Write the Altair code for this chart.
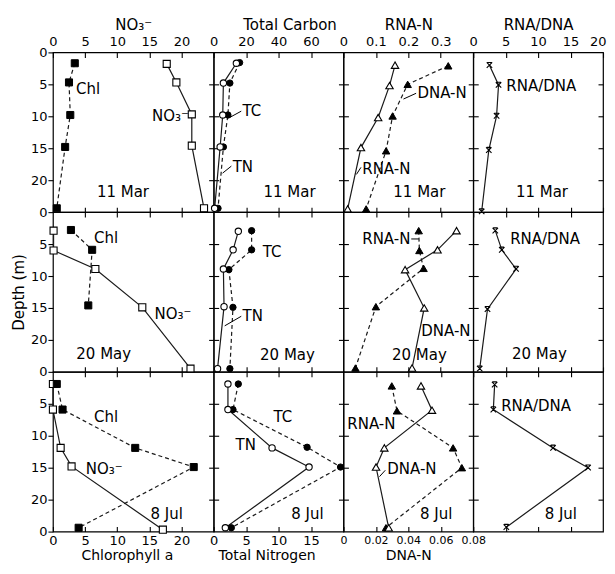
import altair as alt
import pandas as pd

FONT = "DejaVu Sans"
TICK = 5
ROW_H = 160
COL_W = [161, 130, 130, 130]

dates = ["11 Mar", "20 May", "8 Jul"]

# ---- Column 1: NO3- (top scale) and chlorophyll a (bottom scale)
no3_depth = [[1.8, 4.7, 9.7, 14.6, 24.4], [2.9, 6.0, 8.9, 14.9, 24.5], [1.9, 5.9, 11.9, 14.8, 24.7]]
no3_value = [[17.7, 19.2, 21.6, 21.6, 23.5], [0.1, 0.1, 6.6, 13.9, 21.4], [0.0, 0.0, 1.2, 2.9, 17.1]]
chl_depth = [[1.7, 4.7, 9.8, 14.8, 24.4], [2.8, 5.9, 14.6], [1.9, 5.9, 11.9, 14.9, 24.4]]
chl_value = [[3.4, 2.5, 2.7, 1.9, 0.6], [2.8, 6.1, 5.5], [0.6, 1.5, 12.8, 21.9, 4.0]]

# ---- Column 2: total carbon (top) and total nitrogen (bottom)
tc_depth = [[1.6, 4.8, 9.8, 14.8, 24.4], [2.9, 5.9, 9.0, 14.9, 24.5], [1.9, 5.9, 11.8, 14.9, 24.4]]
tc_value = [[16.0, 10.0, 8.8, 6.0, 2.7], [23.4, 23.4, 9.4, 11.9, 10.0], [15.2, 11.9, 57.6, 78.2, 10.9]]
tn_depth = [[1.7, 4.8, 9.8, 14.8, 24.4], [3.0, 5.9, 8.9, 14.8, 24.5], [1.9, 5.9, 11.9, 14.9, 24.4]]
tn_value = [[3.5, 1.5, 1.4, 1.0, 0.15], [3.8, 3.0, 1.5, 1.6, 0.6], [2.2, 2.2, 9.0, 14.7, 1.8]]

# ---- Column 3: RNA-N (top) and DNA-N (bottom)
rna_depth = [[2.0, 5.2, 10.2, 14.9, 24.5], [2.9, 6.0, 8.8, 14.8, 24.4], [2.2, 6.1, 11.9, 15.0, 24.4]]
rna_value = [[0.159, 0.142, 0.107, 0.054, 0.013], [0.232, 0.234, 0.247, 0.100, 0.037], [0.149, 0.165, 0.338, 0.365, 0.131]]
dna_depth = [[2.1, 5.0, 9.95, 15.4, 24.5], [2.9, 5.9, 9.0, 15.0, 24.4], [2.2, 6.0, 11.9, 14.9, 24.4]]
dna_value = [[0.0646, 0.0396, 0.0303, 0.0263, 0.0140], [0.0697, 0.058, 0.038, 0.0498, 0.0423], [0.0478, 0.0546, 0.0252, 0.0201, 0.0279]]

# ---- Column 4: RNA/DNA ratio
ratio_depth = [[2.0, 5.1, 9.95, 15.3, 24.9], [2.9, 5.9, 8.9, 15.2, 24.5], [2.0, 5.9, 11.9, 15.0, 24.3]]
ratio_value = [[2.5, 3.9, 3.6, 2.4, 1.3], [3.4, 4.4, 6.6, 2.2, 1.0], [3.3, 3.1, 12.3, 17.7, 5.1]]

# axes
top_titles = ["NO₃⁻", "Total Carbon", "RNA-N", "RNA/DNA"]
bottom_titles = ["Chlorophyll a", "Total Nitrogen", "DNA-N", ""]
top_domains = [[0, 25], [0, 80], [0, 0.4], [0, 20]]
bottom_domains = [[0, 25], [0, 20], [0, 0.08], [0, 20]]
top_ticks = [[0, 5, 10, 15, 20], [0, 20, 40, 60], [0, 0.1, 0.2, 0.3], [0, 5, 10, 15, 20]]
bottom_ticks = [[0, 5, 10, 15, 20], [0, 5, 10, 15], [0, 0.02, 0.04, 0.06, 0.08], [0, 5, 10, 15]]
depth_ticks = [0, 5, 10, 15, 20]

# in-panel labels (text, x in top-axis units, depth)
label_text = [
    [["Chl", "NO₃⁻"], ["TC", "TN"], ["DNA-N", "RNA-N"], ["RNA/DNA"]],
    [["Chl", "NO₃⁻"], ["TC", "TN"], ["RNA-N", "DNA-N"], ["RNA/DNA"]],
    [["Chl", "NO₃⁻"], ["TC", "TN"], ["RNA-N", "DNA-N"], ["RNA/DNA"]],
]
label_x = [
    [[3.6, 15.4], [17.8, 11.7], [0.228, 0.058], [5.1]],
    [[6.4, 15.8], [30.2, 17.8], [0.058, 0.24], [5.7]],
    [[6.4, 5.1], [36.9, 13.5], [0.012, 0.135], [4.3]],
]
label_d = [
    [[5.8, 10.0], [9.2, 18.0], [6.4, 18.3], [5.3]],
    [[4.1, 15.9], [6.25, 16.25], [4.2, 18.6], [4.2]],
    [[7.0, 15.2], [7.0, 11.4], [8.1, 15.2], [5.3]],
]
date_x = [[10.9, 46.8, 0.234, 10.6], [7.9, 45.5, 0.234, 10.2], [17.7, 57.8, 0.286, 13.5]]
date_d = [[21.9, 21.9, 21.9, 21.9], [22.2, 22.3, 22.3, 22.2], [22.3, 22.2, 22.2, 22.3]]

# short leader strokes from labels to curves (x1, d1, x2, d2 in top-axis units)
leaders = {
    (0, 1): [[17.0, 9.2, 9.8, 10.2], [10.9, 17.8, 5.5, 18.9]],
    (0, 2): [[0.224, 6.4, 0.185, 7.3], [0.054, 18.0, 0.040, 19.1]],
    (1, 1): [[17.0, 16.3, 6.8, 17.8]],
    (1, 2): [[0.209, 4.2, 0.232, 4.2]],
    (2, 2): [[0.129, 15.4, 0.111, 16.4]],
}


def yscale():
    return alt.Scale(domain=[0, 25], reverse=True, nice=False, zero=False)


def xscale(dom):
    return alt.Scale(domain=dom, nice=False, zero=False)


def top_axis(r, c):
    if r == 0:
        kw = dict(orient="top", values=top_ticks[c], format="~r", title=top_titles[c],
                  offset=-TICK, tickSize=TICK, labelPadding=4, titlePadding=3, labelFlush=False)
        if c == 1:
            kw["titleX"] = 76
        if c == 3:
            kw["labelAlign"] = {"condition": {"test": "datum.value == 20", "value": "right"},
                                "value": "center"}
            kw["labelOffset"] = {"condition": {"test": "datum.value == 20", "value": 3},
                                 "value": 0}
        return alt.Axis(**kw)
    return alt.Axis(orient="top", values=top_ticks[c][1:], labels=False, title=None, tickSize=TICK)


def bottom_axis(r, c):
    if r == 2:
        if c == 3:
            return alt.Axis(orient="bottom", values=bottom_ticks[c][1:], labels=False, title=None,
                            offset=-TICK, tickSize=TICK)
        kw = dict(orient="bottom", values=bottom_ticks[c], format="~r", title=bottom_titles[c],
                  offset=-TICK, tickSize=TICK, labelPadding=3, titlePadding=1, labelFlush=False,
                  titleFontSize=14)
        if c == 2:
            kw["labelFontSize"] = 11
            kw["titlePadding"] = 3
        if c == 0:
            kw["titleX"] = 74
        if c == 1:
            kw["titleX"] = 53
        return alt.Axis(**kw)
    return alt.Axis(orient="bottom", values=bottom_ticks[c][1:], labels=False, title=None, tickSize=TICK)


def left_axis(r, c):
    if c == 0:
        vals = depth_ticks + ([25] if r == 2 else [])
        kw = dict(orient="left", values=vals, labelExpr="datum.value == 25 ? '0' : datum.label",
                  tickSize=TICK, labelPadding=1, titlePadding=4)
        kw["title"] = "Depth (m)" if r == 1 else None
        return alt.Axis(**kw)
    return alt.Axis(orient="left", values=depth_ticks[1:], labels=False, title=None, tickSize=TICK)


def right_axis(r, c):
    if c == 3:
        return alt.Axis(orient="right", values=depth_ticks[1:], labels=False, title=None,
                        tickSize=TICK, offset=-TICK)
    return alt.Axis(orient="right", values=depth_ticks[1:], labels=False, title=None, tickSize=TICK)


def series(depths, values, dom, shape, style, dashed, xaxis, yaxis, size, visible=True):
    df = pd.DataFrame({"d": depths, "v": values})
    base = alt.Chart(df)
    lkw = dict(color="#1a1a1a", strokeWidth=1.2)
    if dashed:
        lkw["strokeDash"] = [4, 3]
    if not visible:
        lkw["opacity"] = 0
    line = base.mark_line(**lkw).encode(
        x=alt.X("v:Q", scale=xscale(dom), axis=xaxis),
        y=alt.Y("d:Q", scale=yscale(), axis=yaxis),
        order=alt.Order("d:Q"),
    )
    if not visible:
        return [line]
    if style == "cross":
        pkw = dict(shape="M-1,-1L1,1M-1,1L1,-1M-0.8,-1L0.8,-1", filled=False, stroke="black",
                   strokeWidth=1.1, opacity=1)
    elif style == "filled":
        pkw = dict(shape=shape, filled=True, fill="black", stroke="black", strokeWidth=1, opacity=1)
    else:
        pkw = dict(shape=shape, filled=True, fill="white", stroke="black", strokeWidth=1.1, opacity=1)
    point = base.mark_point(size=size, **pkw).encode(
        x=alt.X("v:Q", scale=xscale(dom), axis=None),
        y=alt.Y("d:Q", scale=yscale(), axis=None),
    )
    return [line, point]


def text_layer(texts, xs, ds, dom, align):
    df = pd.DataFrame({"t": texts, "v": xs, "d": ds})
    return alt.Chart(df).mark_text(align=align, baseline="middle", font=FONT, fontSize=15,
                                   color="black").encode(
        x=alt.X("v:Q", scale=xscale(dom), axis=None),
        y=alt.Y("d:Q", scale=yscale(), axis=None),
        text="t:N",
    )


def leader_layer(segs, dom):
    df = pd.DataFrame(segs, columns=["v", "d", "v2", "d2"])
    return alt.Chart(df).mark_rule(color="black", strokeWidth=1).encode(
        x=alt.X("v:Q", scale=xscale(dom), axis=None),
        x2="v2:Q",
        y=alt.Y("d:Q", scale=yscale(), axis=None),
        y2="d2:Q",
    )


panels = []
for r in range(3):
    for c in range(4):
        ta, ba = top_axis(r, c), bottom_axis(r, c)
        la, ra = left_axis(r, c), right_axis(r, c)
        td, bd = top_domains[c], bottom_domains[c]
        if c == 0:
            a = series(no3_depth[r], no3_value[r], td, "square", "open", False, ta, la, 50)
            b = series(chl_depth[r], chl_value[r], bd, "square", "filled", True, ba, ra, 50)
        elif c == 1:
            a = series(tc_depth[r], tc_value[r], td, "circle", "filled", True, ta, la, 40)
            b = series(tn_depth[r], tn_value[r], bd, "circle", "open", False, ba, ra, 40)
        elif c == 2:
            if r == 0:
                a = series(rna_depth[r], rna_value[r], td, "triangle-up", "open", False, ta, la, 55)
                b = series(dna_depth[r], dna_value[r], bd, "triangle-up", "filled", True, ba, ra, 55)
            else:
                a = series(rna_depth[r], rna_value[r], td, "triangle-up", "filled", True, ta, la, 55)
                b = series(dna_depth[r], dna_value[r], bd, "triangle-up", "open", False, ba, ra, 55)
        else:
            a = series(ratio_depth[r], ratio_value[r], td, "cross", "cross", False, ta, la, 30)
            b = series(ratio_depth[r], ratio_value[r], bd, "cross", "cross", False, ba, ra, 30,
                       visible=False)
        labels = text_layer(label_text[r][c], label_x[r][c], label_d[r][c], td, "left")
        date = text_layer([dates[r]], [date_x[r][c]], [date_d[r][c]], td, "center")
        layers = [a[0], b[0]] + a[1:] + b[1:] + [labels, date]
        if (r, c) in leaders:
            layers.append(leader_layer(leaders[(r, c)], td))
        panel = alt.layer(*layers).resolve_scale(x="independent").resolve_axis(
            x="independent", y="independent").properties(width=COL_W[c], height=ROW_H)
        panels.append(panel)

chart = alt.concat(*panels, columns=4, spacing=0, bounds="flush").properties(
    padding={"left": 2, "top": 8, "right": 0, "bottom": 0}
).configure_view(
    stroke="black", strokeWidth=1.2
).configure_axis(
    domain=False, grid=False, tickColor="black", tickWidth=1.1,
    labelFont=FONT, labelFontSize=13, labelColor="black",
    titleFont=FONT, titleFontSize=15, titleFontWeight="normal", titleColor="black",
    labelOverlap=False,
)

chart.save("out.html", embed_options={"renderer": "svg", "actions": False})
